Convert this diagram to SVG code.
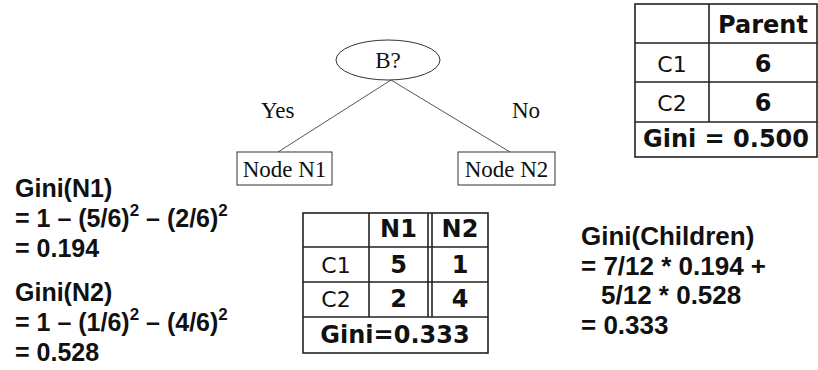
<svg xmlns="http://www.w3.org/2000/svg" width="818" height="370" viewBox="0 0 818 370">
<style>
.serif{font-family:"Liberation Serif","Times New Roman",serif;font-size:23px;fill:#111}
.eq{font-family:"Liberation Sans",Arial,sans-serif;font-size:25px;font-weight:bold;fill:#111}
.eq2{font-size:26px}
tspan.sup{font-size:17px}
.tb{font-family:"DejaVu Sans",Verdana,sans-serif;fill:#111;text-anchor:middle}
.tr{font-size:22px}
.tbb{font-size:24px;font-weight:bold}
.grid{stroke:#222;stroke-width:1.6;fill:none}
.node{fill:#fff;stroke:#333;stroke-width:1}
.edge{stroke:#555;stroke-width:1;fill:none}
</style>
<rect width="818" height="370" fill="#fff"/>
<g id="connectors">
<line class="edge" x1="391" y1="80" x2="278" y2="152"/>
<line class="edge" x1="391" y1="80" x2="510" y2="152"/>
<text class="serif" x="261" y="118">Yes</text>
<text class="serif" x="512" y="118">No</text>
</g>
<g id="nodeB">
<ellipse class="node" cx="388" cy="60" rx="52" ry="20"/>
<text class="serif" x="388" y="68" text-anchor="middle">B?</text>
</g>
<g id="nodeN1">
<rect class="node" x="237" y="152" width="95" height="33"/>
<text class="serif" x="284.5" y="177" text-anchor="middle">Node N1</text>
</g>
<g id="nodeN2">
<rect class="node" x="458" y="152" width="97" height="33"/>
<text class="serif" x="506.5" y="177" text-anchor="middle">Node N2</text>
</g>
<g id="parentTable">
<rect class="grid" x="635" y="4" width="182" height="153"/>
<line class="grid" x1="635" y1="43" x2="817" y2="43"/>
<line class="grid" x1="635" y1="82" x2="817" y2="82"/>
<line class="grid" x1="635" y1="122" x2="817" y2="122"/>
<line class="grid" x1="709" y1="4" x2="709" y2="122"/>
<text class="tb tbb" x="763" y="33">Parent</text>
<text class="tb tr" x="672" y="72">C1</text>
<text class="tb tbb" x="763" y="72">6</text>
<text class="tb tr" x="672" y="111">C2</text>
<text class="tb tbb" x="763" y="111">6</text>
<text class="tb tbb" x="726" y="147">Gini = 0.500</text>
</g>
<g id="childrenTable">
<rect class="grid" x="303" y="213" width="185" height="140"/>
<line class="grid" x1="303" y1="247" x2="488" y2="247"/>
<line class="grid" x1="303" y1="282" x2="488" y2="282"/>
<line class="grid" x1="303" y1="317" x2="488" y2="317"/>
<line class="grid" x1="369" y1="213" x2="369" y2="317"/>
<line class="grid" x1="428" y1="213" x2="428" y2="317"/>
<line class="grid" x1="432" y1="213" x2="432" y2="317"/>
<text class="tb tbb" x="398.5" y="237">N1</text>
<text class="tb tbb" x="460" y="237">N2</text>
<text class="tb tr" x="336" y="273">C1</text>
<text class="tb tbb" x="398.5" y="273">5</text>
<text class="tb tbb" x="460" y="273">1</text>
<text class="tb tr" x="336" y="307">C2</text>
<text class="tb tbb" x="398.5" y="307">2</text>
<text class="tb tbb" x="460" y="307">4</text>
<text class="tb tbb" x="395" y="343">Gini=0.333</text>
</g>
<g id="giniN1">
<text class="eq" x="15" y="197">Gini(N1)</text>
<text class="eq" x="15" y="227">= 1 – (5/6)<tspan class="sup" dy="-11">2</tspan><tspan dy="11"> – (2/6)</tspan><tspan class="sup" dy="-11">2</tspan></text>
<text class="eq" x="15" y="257">= 0.194</text>
</g>
<g id="giniN2">
<text class="eq" x="15" y="301">Gini(N2)</text>
<text class="eq" x="15" y="331">= 1 – (1/6)<tspan class="sup" dy="-11">2</tspan><tspan dy="11"> – (4/6)</tspan><tspan class="sup" dy="-11">2</tspan></text>
<text class="eq" x="15" y="361">= 0.528</text>
</g>
<g id="giniChildren">
<text class="eq eq2" x="581" y="245">Gini(Children)</text>
<text class="eq eq2" x="581" y="275">= 7/12 * 0.194 +</text>
<text class="eq eq2" x="601" y="304">5/12 * 0.528</text>
<text class="eq eq2" x="581" y="334">= 0.333</text>
</g>
</svg>
